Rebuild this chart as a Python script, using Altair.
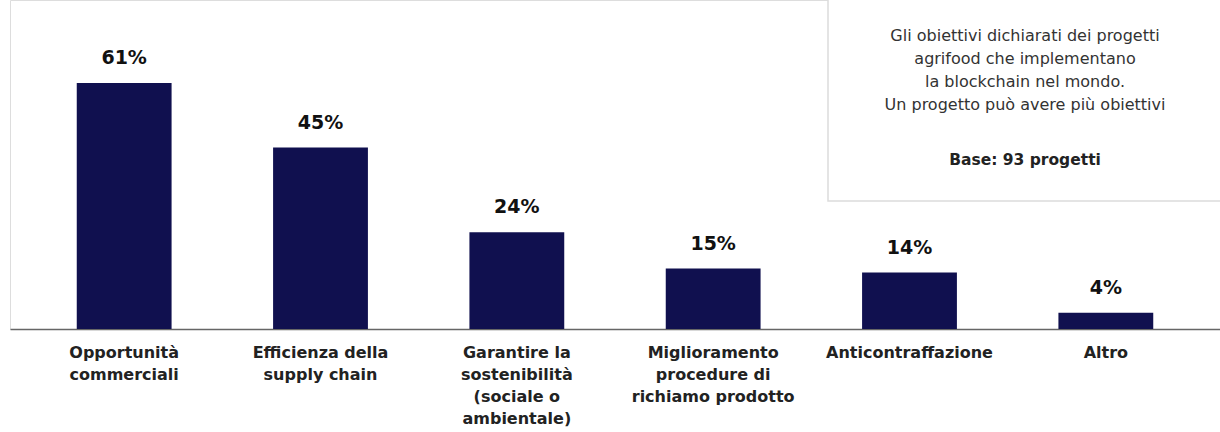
import altair as alt
import pandas as pd

categories = [
    "Opportunità\ncommerciali",
    "Efficienza della\nsupply chain",
    "Garantire la\nsostenibilità\n(sociale o\nambientale)",
    "Miglioramento\nprocedure di\nrichiamo prodotto",
    "Anticontraffazione",
    "Altro",
]
values = [61, 45, 24, 15, 14, 4]
labels = [f"{v}%" for v in values]

note_lines = [
    "Gli obiettivi dichiarati dei progetti",
    "agrifood che implementano",
    "la blockchain nel mondo.",
    "Un progetto può avere più obiettivi",
]
note_base = "Base: 93 progetti"

FONT = "DejaVu Sans"
NAVY = "#10104f"

df = pd.DataFrame({"cat": categories, "val": values, "label": labels})

x = alt.X(
    "cat:N",
    sort=categories,
    scale=alt.Scale(paddingInner=0.517, paddingOuter=0.34),
    axis=alt.Axis(
        title=None,
        labelExpr="split(datum.label, '\\n')",
        labelAngle=0,
        labelFont=FONT,
        labelFontSize=16,
        labelFontWeight="bold",
        labelColor="#222222",
        labelLineHeight=22,
        labelPadding=15,
        labelBaseline="top",
        ticks=False,
        domainColor="#666666",
        domainWidth=1.5,
        labelLimit=300,
    ),
)
y = alt.Y("val:Q", scale=alt.Scale(domain=[0, 81.6], nice=False), axis=None)

base = alt.Chart(df)
bars = base.mark_bar(color=NAVY).encode(x=x, y=y)
text = base.mark_text(
    dy=-15, baseline="bottom", fontSize=19, fontWeight="bold", font=FONT, color="#111111"
).encode(x=x, y=y, text="label:N")

box_df = pd.DataFrame({"note": ["\n".join(note_lines)], "base": [note_base]})
box = alt.Chart(box_df).mark_rect(fill="white", stroke="#dcdcdc", strokeWidth=1.5).encode(
    x=alt.value(818), x2=alt.value(1240), y=alt.value(-20), y2=alt.value(201)
)
note = alt.Chart(box_df).mark_text(
    align="center", baseline="middle", lineBreak="\n", lineHeight=23,
    fontSize=16, font=FONT, color="#333333"
).encode(x=alt.value(1015), y=alt.value(36), text="note:N")
note2 = alt.Chart(box_df).mark_text(
    align="center", baseline="middle", fontSize=15.5, fontWeight="bold", font=FONT, color="#222222"
).encode(x=alt.value(1015), y=alt.value(160), text="base:N")

chart = alt.layer(box, note, note2, bars, text).properties(
    width=1210,
    height=329,
    autosize=alt.AutoSizeParams(type="none"),
    padding={"left": 10, "top": 0, "right": 0, "bottom": 103},
).configure_view(stroke=None).configure(background="white")

chart.save("out.html", embed_options={"renderer": "svg", "actions": False})
